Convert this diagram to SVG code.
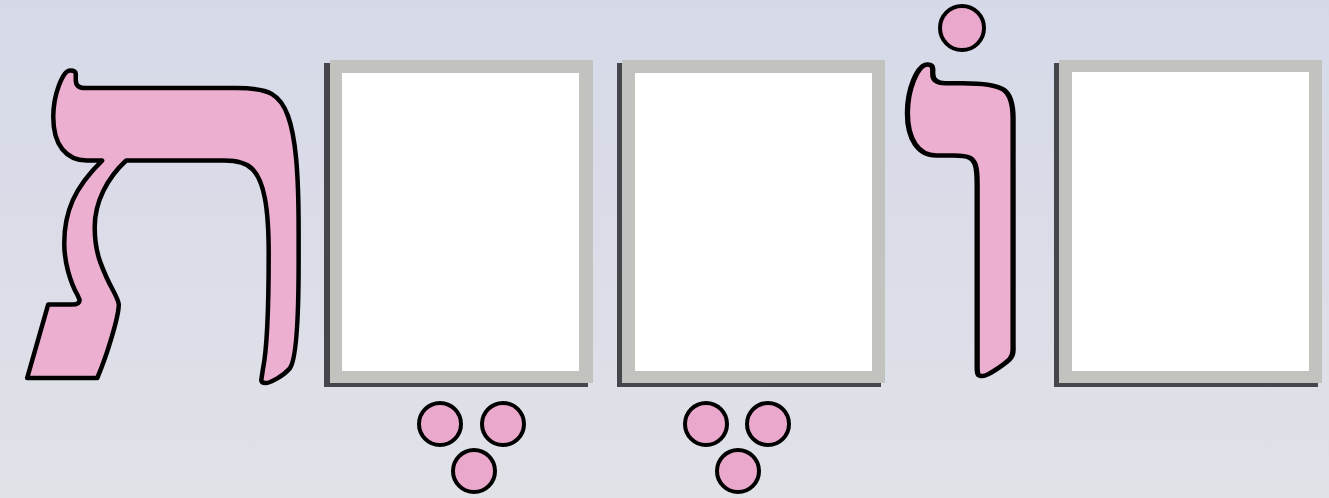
<svg xmlns="http://www.w3.org/2000/svg" width="1329" height="498" viewBox="0 0 1329 498">
<defs>
<linearGradient id="bg" x1="0" y1="0" x2="0" y2="1">
<stop offset="0" stop-color="#d6d9e8"/>
<stop offset="1" stop-color="#dfe2e7"/>
</linearGradient>
</defs>
<style>
.letter{fill:#ecafd0;stroke:#000;stroke-width:4.5;stroke-linejoin:round;font-family:"Liberation Serif","DejaVu Serif",serif;font-weight:bold;}
.dot{fill:#eaa9cc;stroke:#000;stroke-width:4;}
.shadow{fill:#45464c;}
.frame{fill:#c2c2be;}
.inner{fill:#fff;}
</style>
<rect x="0" y="0" width="1329" height="498" fill="url(#bg)"/>
<g id="tav">
<text class="letter" x="178" y="378" font-size="524" text-anchor="middle">ת</text>
</g>
<g id="box1">
<rect class="shadow" x="324" y="63" width="264" height="324"/>
<rect class="frame" x="330" y="60" width="263" height="323"/>
<rect class="inner" x="342" y="73" width="237" height="298"/>
</g>
<g id="box2">
<rect class="shadow" x="617" y="63" width="264" height="324"/>
<rect class="frame" x="622" y="60" width="263" height="323"/>
<rect class="inner" x="635" y="73" width="237" height="298"/>
</g>
<g id="vav" transform="translate(907,0) scale(1.18,1) translate(-907,0)">
<text class="letter" x="968" y="373" font-size="524" text-anchor="middle">ו</text>
</g>
<g id="holam">
<circle class="dot" cx="962" cy="28" r="22"/>
</g>
<g id="box3">
<rect class="shadow" x="1054" y="63" width="264" height="324"/>
<rect class="frame" x="1059" y="60" width="263" height="323"/>
<rect class="inner" x="1072" y="72" width="237" height="299"/>
</g>
<g id="segol1">
<circle class="dot" cx="440" cy="424" r="21"/>
<circle class="dot" cx="503" cy="424" r="21"/>
<circle class="dot" cx="474" cy="471" r="21"/>
</g>
<g id="segol2">
<circle class="dot" cx="706" cy="424" r="21"/>
<circle class="dot" cx="768" cy="424" r="21"/>
<circle class="dot" cx="738" cy="471" r="21"/>
</g>
<g id="connectors"/>
</svg>
